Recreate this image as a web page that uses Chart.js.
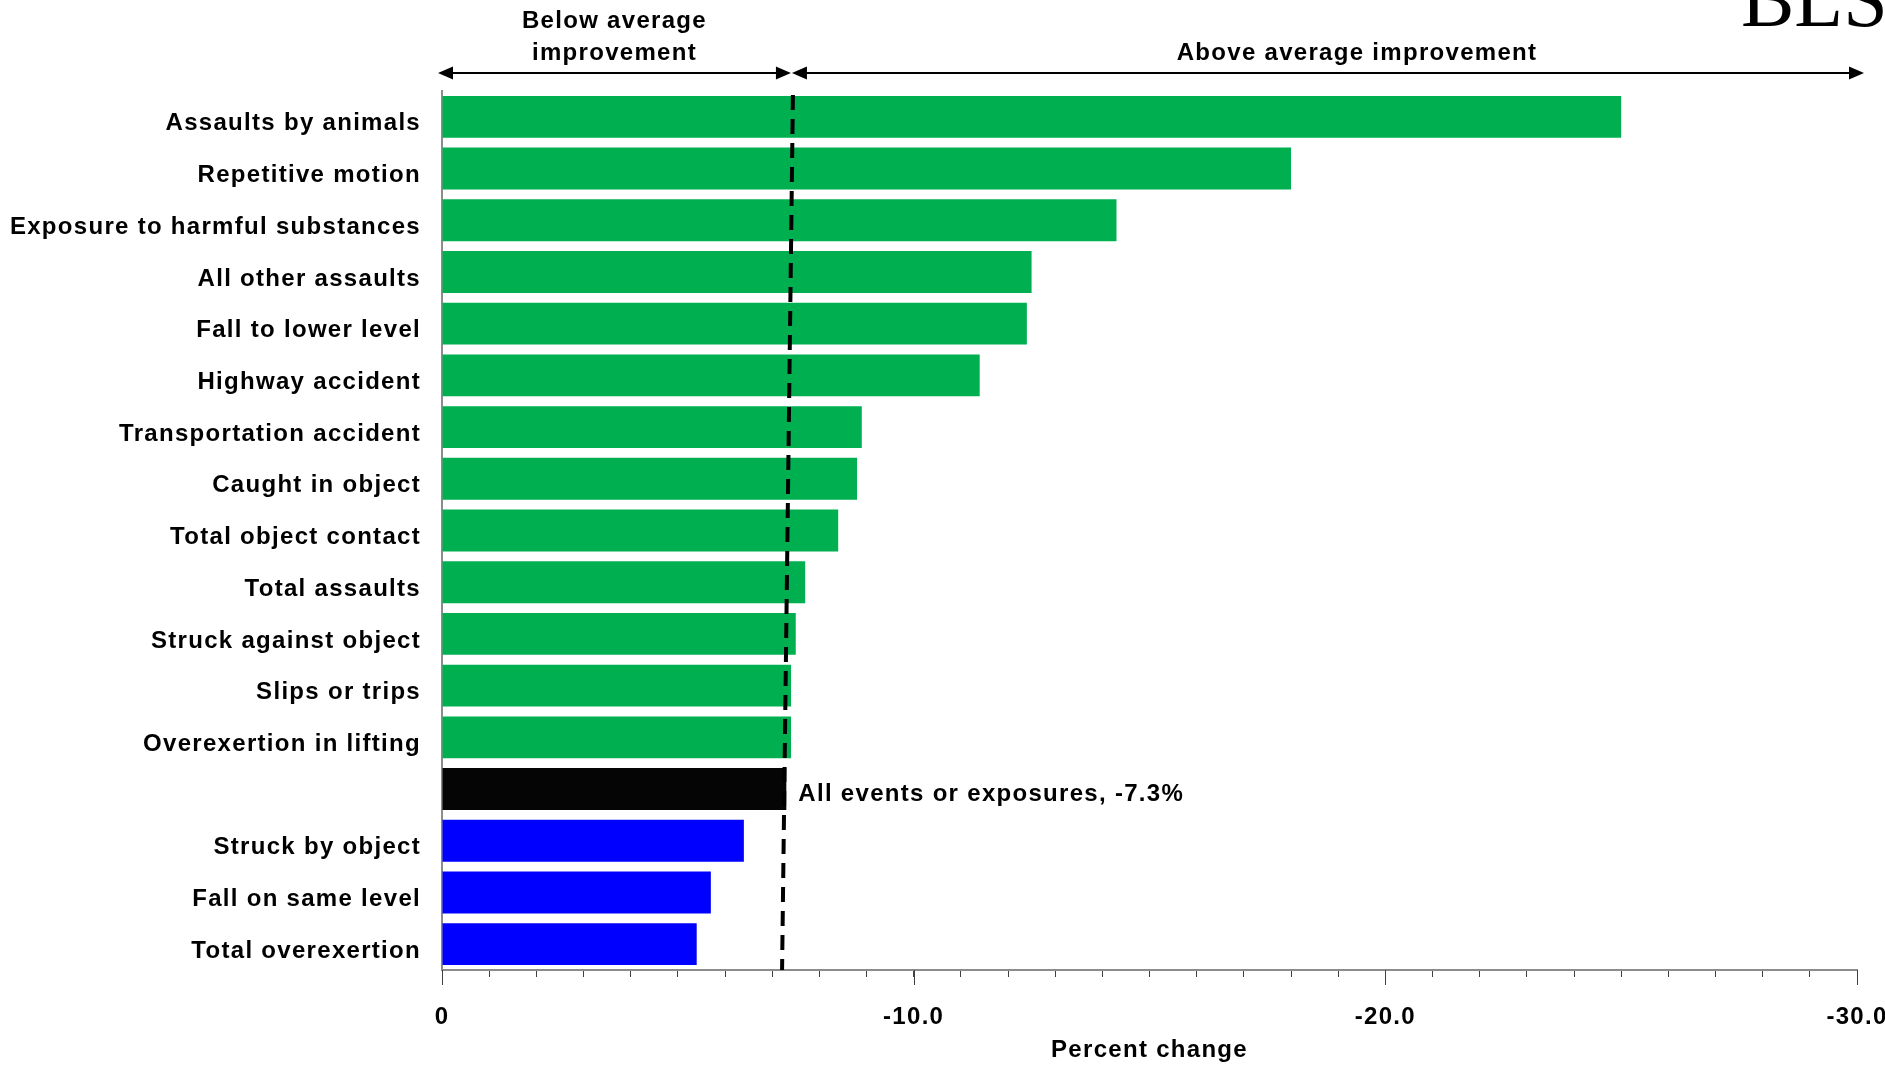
<!DOCTYPE html>
<html>
<head>
<meta charset="utf-8">
<title>Percent change by event or exposure</title>
<script src="https://cdn.jsdelivr.net/npm/chart.js@4.4.1/dist/chart.umd.min.js"></script>
<style>
  html, body { margin: 0; padding: 0; background: #fff; }
  #wrap { width: 1885px; height: 1065px; position: relative; }
</style>
</head>
<body>
<div id="wrap"><canvas id="chart"></canvas></div>
<script>
// rows, top to bottom
const categories = [
  'Assaults by animals', 'Repetitive motion', 'Exposure to harmful substances',
  'All other assaults', 'Fall to lower level', 'Highway accident',
  'Transportation accident', 'Caught in object', 'Total object contact',
  'Total assaults', 'Struck against object', 'Slips or trips',
  'Overexertion in lifting', 'All events or exposures', 'Struck by object',
  'Fall on same level', 'Total overexertion'
];
// percent change
const changes = [-25.0, -18.0, -14.3, -12.5, -12.4, -11.4, -8.9, -8.8, -8.4,
  -7.7, -7.5, -7.4, -7.4, -7.3, -6.4, -5.7, -5.4];
const allEventsName = 'All events or exposures';
const allEventsChange = -7.3;
const xTickLabels = [0, -10, -20, -30];

// average line as it sits in the picture (a little slanted)
const avgLineTop = -7.44;
const avgLineBottom = -7.21;
const aboveLabelAt = -19.4;

const GREEN = '#00b050', BLUE = '#0000ff', BLACK = '#050505';
const barColors = categories.map((c, i) =>
  c === allEventsName ? BLACK : (changes[i] < allEventsChange ? GREEN : BLUE));

Chart.defaults.font.family = '"Liberation Sans", Arial, sans-serif';
Chart.defaults.color = '#000';

function head(ctx, x, y, dir) {
  // filled arrow head, tip at x, pointing dir (-1 left, 1 right)
  ctx.beginPath();
  ctx.moveTo(x, y);
  ctx.lineTo(x - dir * 15, y - 6.5);
  ctx.lineTo(x - dir * 15, y + 6.5);
  ctx.closePath();
  ctx.fill();
}

const extras = {
  id: 'extras',
  beforeDraw(chart) {
    chart.ctx.letterSpacing = '1.3px';
  },
  afterDatasetsDraw(chart) {
    const { ctx, chartArea } = chart;
    const xs = chart.scales.x, ys = chart.scales.y;
    // dashed average line
    ctx.save();
    ctx.strokeStyle = '#000';
    ctx.lineWidth = 4;
    ctx.setLineDash([15, 9]);
    ctx.beginPath();
    ctx.moveTo(xs.getPixelForValue(avgLineTop), chartArea.top + 4);
    ctx.lineTo(xs.getPixelForValue(avgLineBottom), chartArea.bottom);
    ctx.stroke();
    ctx.restore();

    // label next to the all-events bar
    const idx = categories.indexOf(allEventsName);
    ctx.save();
    ctx.fillStyle = '#000';
    ctx.font = 'bold 24px "Liberation Sans", Arial, sans-serif';
    ctx.textAlign = 'left';
    ctx.textBaseline = 'middle';
    ctx.fillText(allEventsName + ', ' + allEventsChange.toFixed(1) + '%',
      xs.getPixelForValue(allEventsChange) + 12, ys.getPixelForValue(idx) + 5);
    ctx.restore();
  },
  afterDraw(chart) {
    const { ctx, chartArea } = chart;
    const xs = chart.scales.x;
    ctx.save();
    // longer major ticks
    ctx.strokeStyle = '#404040';
    ctx.lineWidth = 1;
    xTickLabels.forEach(v => {
      const x = Math.round(xs.getPixelForValue(v)) + 0.5;
      ctx.beginPath();
      ctx.moveTo(x, chartArea.bottom);
      ctx.lineTo(x, chartArea.bottom + 15);
      ctx.stroke();
    });

    // arrows above the plot
    const y = chartArea.top - 18;
    const xL = xs.getPixelForValue(0) - 4;
    const xM = xs.getPixelForValue(avgLineTop) - 2;
    const xR = xs.getPixelForValue(-30) + 7;
    ctx.strokeStyle = '#000';
    ctx.fillStyle = '#000';
    ctx.lineWidth = 2;
    ctx.beginPath();
    ctx.moveTo(xL + 5, y); ctx.lineTo(xM - 5, y);
    ctx.moveTo(xM + 6, y); ctx.lineTo(xR - 5, y);
    ctx.stroke();
    head(ctx, xL, y, -1);
    head(ctx, xM, y, 1);
    head(ctx, xM + 1, y, -1);
    head(ctx, xR, y, 1);

    ctx.font = 'bold 24px "Liberation Sans", Arial, sans-serif';
    ctx.textAlign = 'center';
    ctx.textBaseline = 'middle';
    const xBelow = (xL + xM) / 2;
    ctx.fillText('Below average', xBelow, 21);
    ctx.fillText('improvement', xBelow, 53);
    ctx.fillText('Above average improvement', xs.getPixelForValue(aboveLabelAt), 53);

    // BLS mark, cut at the top edge
    ctx.letterSpacing = '0px';
    ctx.font = '80px "Liberation Serif", "Times New Roman", serif';
    ctx.textAlign = 'left';
    ctx.textBaseline = 'alphabetic';
    ctx.fillText('BLS', chart.width - 144, 26);
    ctx.restore();
  }
};

new Chart(document.getElementById('chart'), {
  type: 'bar',
  data: {
    labels: categories,
    datasets: [{
      data: changes,
      backgroundColor: barColors,
      borderWidth: 0,
      categoryPercentage: 1,
      barPercentage: 0.81
    }]
  },
  options: {
    indexAxis: 'y',
    responsive: true,
    maintainAspectRatio: false,
    animation: false,
    layout: { padding: { top: 91, right: 28, left: 0, bottom: 0 } },
    plugins: { legend: { display: false }, tooltip: { enabled: false } },
    scales: {
      x: {
        type: 'linear',
        reverse: true,
        min: -30,
        max: 0,
        grid: { drawOnChartArea: false, drawTicks: true, tickLength: 7, tickColor: '#404040', tickWidth: 1 },
        border: { display: true, color: '#8c8c8c', width: 2 },
        ticks: {
          stepSize: 1,
          autoSkip: false,
          maxRotation: 0,
          padding: 26,
          color: '#000',
          font: { size: 24, weight: 'bold' },
          callback: v => {
            const r = Math.round(v);
            if (!xTickLabels.includes(r)) return '';
            return r === 0 ? '0' : r.toFixed(1);
          }
        },
        title: {
          display: true,
          text: 'Percent change',
          color: '#000',
          font: { size: 24, weight: 'bold' },
          padding: { top: 0, bottom: 0 }
        },
        afterFit: s => { s.height = 95; s.paddingLeft = 0; s.paddingRight = 0; }
      },
      y: {
        type: 'category',
        grid: { display: true, drawOnChartArea: false, drawTicks: false },
        border: { display: true, color: '#8c8c8c', width: 2 },
        ticks: {
          padding: 21,
          labelOffset: 7,
          color: '#000',
          font: { size: 24, weight: 'bold' },
          autoSkip: false,
          callback: function (v) {
            const n = this.getLabelForValue(v);
            return n === allEventsName ? '' : n;
          }
        },
        afterFit: s => { s.width = 442; }
      }
    }
  },
  plugins: [extras]
});
</script>
</body>
</html>
